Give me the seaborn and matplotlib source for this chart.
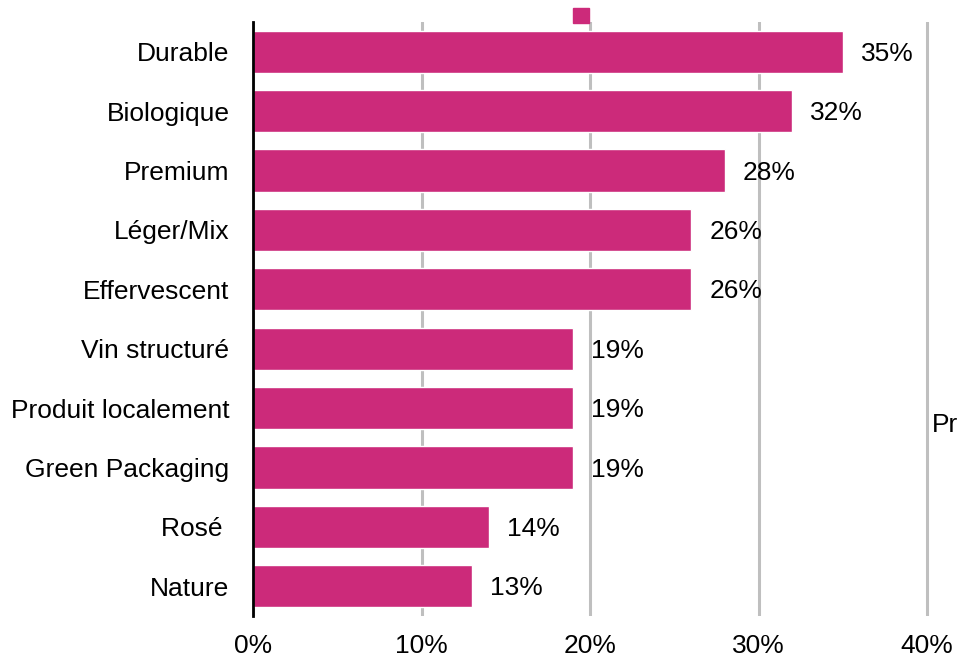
import matplotlib
matplotlib.use("Agg")
import matplotlib.pyplot as plt
import matplotlib.patches as mpatches
import seaborn as sns
import pandas as pd

categories = ["Durable", "Biologique", "Premium", "Léger/Mix", "Effervescent",
              "Vin structuré", "Produit localement", "Green Packaging", "Rosé ", "Nature"]
values = [35, 32, 28, 26, 26, 19, 19, 19, 14, 13]
xticks = [0, 10, 20, 30, 40]
xtick_labels = ["0%", "10%", "20%", "30%", "40%"]

bar_color = "#CC2A7A"
fs = 19

sns.set_theme(style="white")
plt.rcParams["font.family"] = ["Liberation Sans", "DejaVu Sans"]
plt.rcParams["text.color"] = "black"
plt.rcParams["xtick.color"] = "black"
plt.rcParams["ytick.color"] = "black"

df = pd.DataFrame({"cat": categories, "val": values})

fig = plt.figure(figsize=(9.57, 6.59), dpi=100)
W, H = 957, 659
ax = fig.add_axes([253 / W, 1 - 616 / H, (957 - 253) / W, (616 - 22) / H])

sns.barplot(data=df, x="val", y="cat", color=bar_color, width=0.71,
            saturation=1, ax=ax, zorder=3)

ax.set_xlim(0, (957 - 253) / 16.85)
ax.set_ylim(9.5, -0.5)
ax.set_xticks(xticks)
ax.set_xticklabels(xtick_labels, fontsize=fs)
ax.tick_params(axis="x", length=0, pad=13, labelcolor="black")
ax.tick_params(axis="y", length=0, pad=17, labelsize=fs, labelcolor="black")
ax.set_xlabel("")
ax.set_ylabel("")

ax.xaxis.grid(True, color="#BFBFBF", linewidth=2.2)
ax.set_axisbelow(True)
for s in ["top", "right", "bottom"]:
    ax.spines[s].set_visible(False)
ax.spines["left"].set_color("black")
ax.spines["left"].set_linewidth(2)
ax.spines["left"].set_zorder(4)

for c in ax.containers:
    texts = ax.bar_label(c, labels=[f"{v}%" for v in values], padding=13,
                         fontsize=fs, color="black")
    for t in texts:
        t.xyann = (13, -1.5)

handle = mpatches.Patch(color=bar_color, label=" ")
fig.legend(handles=[handle], loc="center", bbox_to_anchor=(584 / W, 1 - 17 / H),
           frameon=False, handlelength=0.75, handleheight=0.75, handletextpad=0,
           fontsize=15, borderpad=0)

fig.text(932 / W, 1 - 425 / H, "Pr", fontsize=fs, va="center", ha="left",
         color="black")

fig.savefig("out.png", dpi=100)
